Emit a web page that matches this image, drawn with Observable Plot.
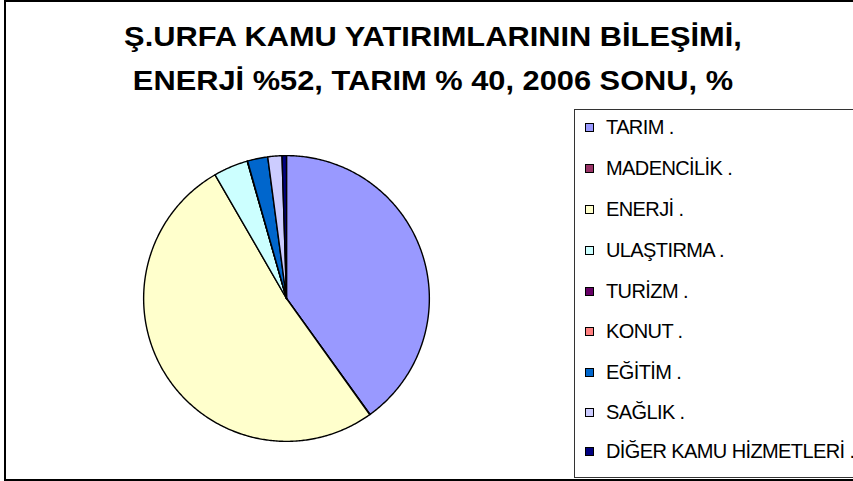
<!DOCTYPE html>
<html>
<head>
<meta charset="utf-8">
<script src="https://cdn.jsdelivr.net/npm/d3@7"></script>
<script src="https://cdn.jsdelivr.net/npm/@observablehq/plot@0.6"></script>
<style>
  html, body { margin: 0; padding: 0; background: #fff; }
  #chart { position: relative; width: 853px; height: 481px; overflow: hidden; font-family: "Liberation Sans", Arial, sans-serif; }
  #frame { position: absolute; left: 4px; top: 0px; width: 870px; height: 477px; border: 2px solid #000; }
  .title { position: absolute; left: 0; width: 866px; text-align: center; font-weight: bold; font-size: 28px; line-height: 32px; letter-spacing: 0px; color: #000; white-space: nowrap; transform: scaleX(1.1); transform-origin: 433px 0; }
  #pie { position: absolute; left: 136px; top: 148px; }
  #legend { position: absolute; left: 574px; top: 109px; width: 300px; height: 367px; border: 1px solid #333; }
  .item { position: absolute; left: 10px; height: 24px; display: flex; align-items: center; font-size: 20px; letter-spacing: -0.6px; white-space: nowrap; }
  .sw { width: 7px; height: 7px; border: 1px solid #000; margin-right: 12px; }
</style>
</head>
<body>
<div id="chart">
  <div id="frame"></div>
  <div class="title" id="t1" style="top:21px"></div>
  <div class="title" id="t2" style="top:65px"></div>
  <div id="pie"></div>
  <div id="legend"></div>
</div>
<script>
const titleLines = ["Ş.URFA KAMU YATIRIMLARININ BİLEŞİMİ,", "ENERJİ %52, TARIM % 40, 2006 SONU, %"];
const categories = ["TARIM .", "MADENCİLİK .", "ENERJİ .", "ULAŞTIRMA .", "TURİZM .", "KONUT .", "EĞİTİM .", "SAĞLIK .", "DİĞER KAMU HİZMETLERİ ."];
const values = [40.1, 0.05, 51.6, 3.9, 0.02, 0.02, 2.3, 1.6, 0.5];
const colors = ["#9999FF", "#993366", "#FFFFCC", "#CCFFFF", "#660066", "#FF8080", "#0066CC", "#CCCCFF", "#000080"];

document.getElementById("t1").textContent = titleLines[0];
document.getElementById("t2").textContent = titleLines[1];

// pie angles
const arcs = d3.pie().sort(null).value(d => d.value)(categories.map((c, i) => ({name: c, value: values[i]})));
const pts = [];
arcs.forEach((a, i) => {
  const n = Math.max(2, Math.ceil((a.endAngle - a.startAngle) / 0.01));
  pts.push({k: i, x: 0, y: 0});
  for (let j = 0; j <= n; j++) {
    const t = a.startAngle + (a.endAngle - a.startAngle) * j / n;
    pts.push({k: i, x: Math.sin(t), y: Math.cos(t)});
  }
  pts.push({k: i, x: 0, y: 0});
});

const plot = Plot.plot({
  width: 300, height: 300,
  margin: 0,
  x: {domain: [-1.05, 1.05], axis: null},
  y: {domain: [-1.05, 1.05], axis: null},
  color: {domain: d3.range(categories.length), range: colors},
  marks: [
    Plot.line(pts, {x: "x", y: "y", z: "k", fill: d => d.k, stroke: "#000", strokeWidth: 1.4, strokeLinejoin: "round", curve: "linear"})
  ]
});
document.getElementById("pie").appendChild(plot);

const legend = document.getElementById("legend");
const rowY = [17, 58, 99, 140, 181, 221, 262, 302, 341];
categories.forEach((c, i) => {
  const d = document.createElement("div");
  d.className = "item";
  d.style.top = (rowY[i] - 12) + "px";
  const sw = document.createElement("div");
  sw.className = "sw";
  sw.style.background = colors[i];
  const tx = document.createElement("span");
  tx.textContent = c;
  d.appendChild(sw); d.appendChild(tx);
  legend.appendChild(d);
});
</script>
</body>
</html>
